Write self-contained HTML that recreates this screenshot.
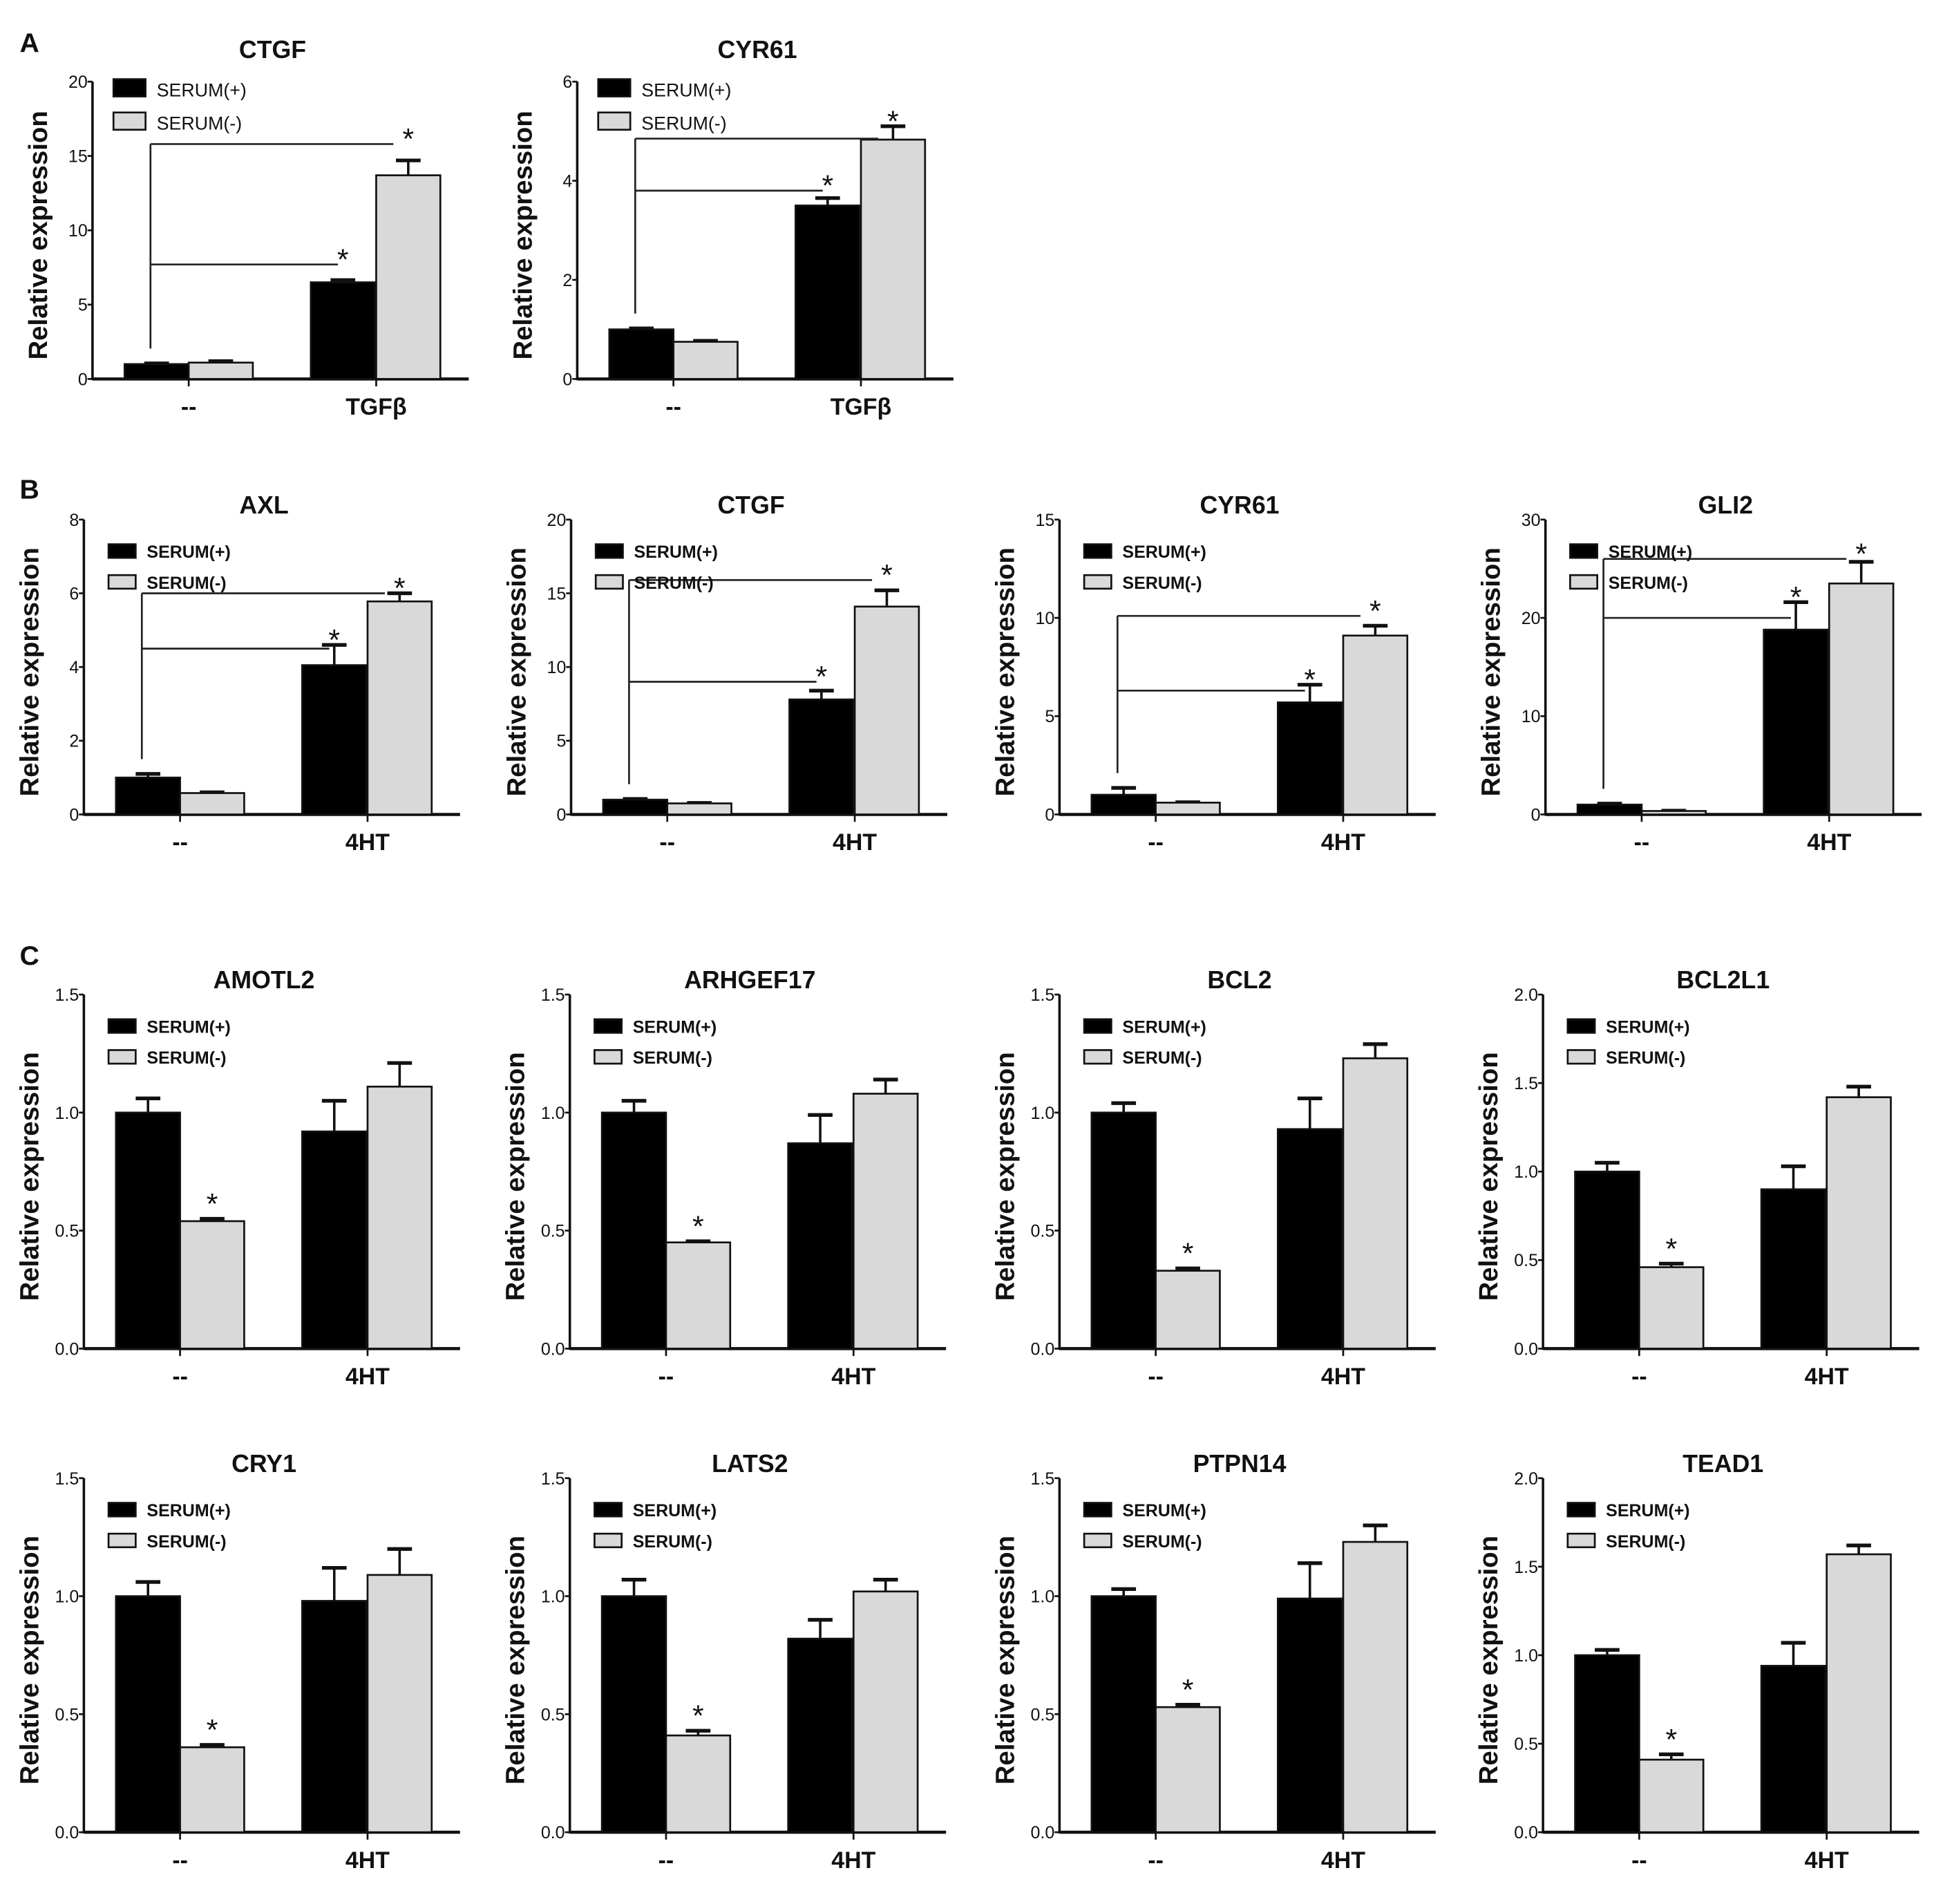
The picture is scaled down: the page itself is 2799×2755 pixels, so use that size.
<!DOCTYPE html>
<html><head><meta charset="utf-8"><style>
html,body{margin:0;padding:0;background:#fff;}
svg{display:block;}
text{font-family:"Liberation Sans",sans-serif;fill:#111;}
.cond{font-family:"Liberation Sans Narrow","Liberation Sans",sans-serif;}
</style></head><body>
<svg id="fig" xmlns="http://www.w3.org/2000/svg" width="2799" height="2755" viewBox="0 0 1568 1543"></svg>
<script>
// ---- data ----
const panelTitles = ["CTGF","CYR61","AXL","CTGF","CYR61","GLI2","AMOTL2","ARHGEF17","BCL2","BCL2L1","CRY1","LATS2","PTPN14","TEAD1"];
const panelCategories = [["--","TGFβ"],["--","TGFβ"],["--","4HT"],["--","4HT"],["--","4HT"],["--","4HT"],["--","4HT"],["--","4HT"],["--","4HT"],["--","4HT"],["--","4HT"],["--","4HT"],["--","4HT"],["--","4HT"]];
const seriesNames = ["SERUM(+)","SERUM(-)"];
const yMax = [20,6,8,20,15,30,1.5,1.5,1.5,2.0,1.5,1.5,1.5,2.0];
const yStep = [5,2,2,5,5,10,0.5,0.5,0.5,0.5,0.5,0.5,0.5,0.5];
const tickDecimals = [0,0,0,0,0,0,1,1,1,1,1,1,1,1];
// means: [ctrl SERUM+, ctrl SERUM-, treat SERUM+, treat SERUM-]
const means = [
 [1.0,1.1,6.5,13.7],[1.0,0.75,3.5,4.83],
 [1.0,0.58,4.05,5.78],[1.0,0.75,7.8,14.1],[1.0,0.6,5.7,9.1],[1.0,0.35,18.8,23.5],
 [1.0,0.54,0.92,1.11],[1.0,0.45,0.87,1.08],[1.0,0.33,0.93,1.23],[1.0,0.46,0.9,1.42],
 [1.0,0.36,0.98,1.09],[1.0,0.41,0.82,1.02],[1.0,0.53,0.99,1.23],[1.0,0.41,0.94,1.57]
];
const errTops = [
 [1.05,1.2,6.65,14.7],[1.02,0.77,3.65,5.1],
 [1.1,0.6,4.6,6.0],[1.05,0.78,8.4,15.2],[1.35,0.62,6.6,9.6],[1.1,0.38,21.6,25.7],
 [1.06,0.55,1.05,1.21],[1.05,0.455,0.99,1.14],[1.04,0.34,1.06,1.29],[1.05,0.48,1.03,1.48],
 [1.06,0.37,1.12,1.2],[1.07,0.43,0.9,1.07],[1.03,0.54,1.14,1.3],[1.03,0.44,1.07,1.62]
];
// significance bracket levels (data units); null = single star over SERUM(-) control
const bracketLow = [7.7,3.8,4.5,9.0,6.3,20,null,null,null,null,null,null,null,null];
const bracketHigh = [15.8,4.85,6.0,15.9,10.1,26,null,null,null,null,null,null,null,null];

// ---- layout (not data) ----
const layout = [
 {ax:75,top:66,zero:307},
 {ax:468,top:66,zero:307},
 {ax:68,top:421,zero:660},{ax:463,top:421,zero:660},{ax:859,top:421,zero:660},{ax:1253,top:421,zero:660},
 {ax:68,top:806,zero:1093},{ax:462,top:806,zero:1093},{ax:859,top:806,zero:1093},{ax:1251,top:806,zero:1093},
 {ax:68,top:1198,zero:1485},{ax:462,top:1198,zero:1485},{ax:859,top:1198,zero:1485},{ax:1251,top:1198,zero:1485}
];
const svg = document.getElementById('fig');
const NS = "http://www.w3.org/2000/svg";
function mk(tag, attrs, parent){const e=document.createElementNS(NS,tag);for(const k in attrs)e.setAttribute(k,attrs[k]);(parent||svg).appendChild(e);return e;}

[["A",22,42],["B",22,404],["C",22,782]].forEach(l=>{
 const t=mk('text',{x:l[1]-6,y:l[2],'font-size':22,'font-weight':'bold'});
 
 
 t.textContent=l[0];
});

panelTitles.forEach((title,i)=>{
 const L=layout[i];
 const g=mk('g',{});
 
 
 const ax=L.ax, zero=L.zero, top=L.top;
 const isA=i<2;
 const ys=v=>zero-v/yMax[i]*(zero-top);
 const xs=k=>ax+[26,78,177,230][k];
 const bw=52;
 const tt=mk('text',{x:ax+146,y:isA?top-19:top-5,'font-size':20,'font-weight':'bold','text-anchor':'middle'},g);
 
 
 tt.textContent=title;
 const yl=mk('text',{x:0,y:0,'font-size':21.5,'font-weight':'bold','text-anchor':'middle',transform:`translate(${ax-37},${(top+zero)/2+4}) rotate(-90)`},g);
 
 
 yl.textContent="Relative expression";
 const ya=mk('line',{x1:ax,y1:top,x2:ax,y2:zero+1,stroke:'#111','stroke-width':2},g);
 
 
 const xa=mk('line',{x1:ax,y1:zero,x2:ax+305,y2:zero,stroke:'#111','stroke-width':2.5},g);
 
 
 for(let v=0; v<=yMax[i]+1e-9; v+=yStep[i]){
  const y=ys(v);
  mk('line',{x1:ax-4,y1:y,x2:ax,y2:y,stroke:'#111','stroke-width':1.5},g);
  const tl=mk('text',{x:ax-4,y:y+5,'font-size':14,'text-anchor':'end',class:'cond',fill:'#222'},g);
  
  
  tl.textContent=v.toFixed(tickDecimals[i]);
 }
 [78,230].forEach((off,c)=>{
  mk('line',{x1:ax+off,y1:zero,x2:ax+off,y2:zero+6,stroke:'#111','stroke-width':1.5},g);
  const cl=mk('text',{x:ax+off,y:zero+29,'font-size':19,'font-weight':'bold','text-anchor':'middle'},g);
  
  
  cl.textContent=panelCategories[i][c];
 });
 means[i].forEach((m,k)=>{
  const fill=(k%2===0)?'#000':'#d9d9d9';
  const x=xs(k);
  const e=errTops[i][k];
  mk('line',{x1:x+bw/2,y1:ys(m),x2:x+bw/2,y2:ys(e),stroke:'#111','stroke-width':2},g);
  mk('line',{x1:x+bw/2-10,y1:ys(e),x2:x+bw/2+10,y2:ys(e),stroke:'#111','stroke-width':3},g);
  const r=mk('rect',{x:x,y:ys(m),width:bw,height:zero-ys(m),fill:fill,stroke:'#111','stroke-width':1.5},g);
  
  
 });
 if(bracketLow[i]!==null){
  const vx=ax+47;
  mk('line',{x1:vx,y1:ys(errTops[i][0])-12,x2:vx,y2:ys(bracketHigh[i]),stroke:'#222','stroke-width':1.5},g);
  mk('line',{x1:vx,y1:ys(bracketHigh[i]),x2:xs(3)+14,y2:ys(bracketHigh[i]),stroke:'#222','stroke-width':1.5},g);
  mk('line',{x1:vx,y1:ys(bracketLow[i]),x2:xs(2)+22,y2:ys(bracketLow[i]),stroke:'#222','stroke-width':1.5},g);
  [[2,bracketLow[i]],[3,bracketHigh[i]]].forEach(p=>{
   const s=mk('text',{x:xs(p[0])+bw/2,y:Math.min(ys(p[1]),ys(errTops[i][p[0]]))+4,'font-size':24,'text-anchor':'middle',fill:'#333'},g);
   
   
   s.textContent='*';
  });
 } else {
  const s=mk('text',{x:xs(1)+bw/2,y:ys(errTops[i][1])-4,'font-size':24,'text-anchor':'middle',fill:'#333'},g);
  
  
  s.textContent='*';
 }
 const lx=isA?ax+17:ax+20, ly=isA?top-2:top+20, gap=isA?27:25, sw=isA?26:22, sh=isA?14:11;
 seriesNames.forEach((n,k)=>{
  const le=mk('g',{},g);
  
  
  mk('rect',{x:lx,y:ly+k*gap,width:sw,height:sh,fill:k===0?'#000':'#d9d9d9',stroke:'#111','stroke-width':1.5},le);
  const t=mk('text',{x:lx+sw+9,y:ly+k*gap+sh,'font-size':isA?15:14,class:'cond','font-weight':isA?'normal':'bold',fill:'#222'},le);
  t.textContent=n;
 });
});
</script>
</body></html>
